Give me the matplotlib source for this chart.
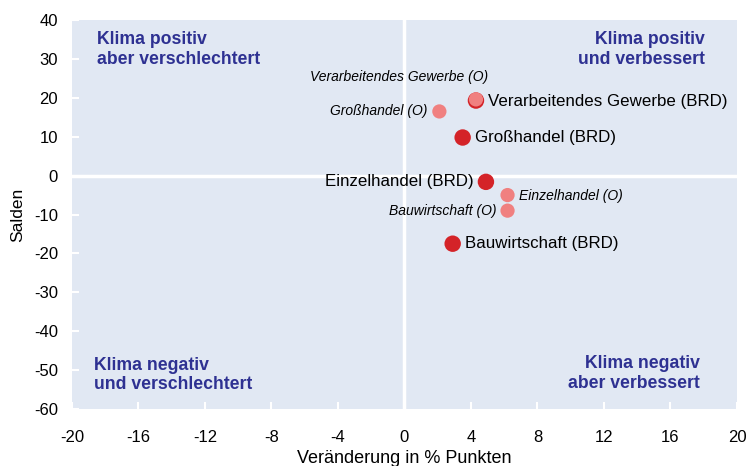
import matplotlib
matplotlib.use("Agg")
import matplotlib.pyplot as plt

# Data
brd_labels = ["Verarbeitendes Gewerbe (BRD)", "Großhandel (BRD)", "Einzelhandel (BRD)", "Bauwirtschaft (BRD)"]
brd_x = [4.3, 3.5, 4.9, 2.9]
brd_y = [19.3, 9.8, -1.6, -17.5]

ost_labels = ["Verarbeitendes Gewerbe (O)", "Großhandel (O)", "Einzelhandel (O)", "Bauwirtschaft (O)"]
ost_x = [4.3, 2.1, 6.2, 6.2]
ost_y = [19.6, 16.5, -5.0, -9.0]

x_ticks = [-20, -16, -12, -8, -4, 0, 4, 8, 12, 16, 20]
y_ticks = [40, 30, 20, 10, 0, -10, -20, -30, -40, -50, -60]

quadrant_texts = ["Klima positiv\naber verschlechtert", "Klima positiv\nund verbessert",
                  "Klima negativ\nund verschlechtert", "Klima negativ\naber verbessert"]

plt.rcParams['font.family'] = ['Liberation Sans', 'DejaVu Sans']

fig = plt.figure(figsize=(7.52, 4.66), dpi=100)
ax = fig.add_axes([0.0957, 0.1223, 0.8843, 0.8347])
bg = '#e1e8f3'
ax.set_facecolor(bg)
for s in ax.spines.values():
    s.set_visible(False)
ax.set_xlim(-20, 20)
ax.set_ylim(-60, 40)
ax.set_xticks(x_ticks)
ax.set_yticks(y_ticks)
ax.set_xticklabels([str(t) for t in x_ticks], fontsize=12)
ax.set_yticklabels([str(t) for t in y_ticks], fontsize=12)
ax.tick_params(axis='both', direction='in', color='white', length=5, width=1.5)
ax.tick_params(axis='x', pad=15)
ax.tick_params(axis='y', pad=10)
ax.axvline(0, color='white', lw=2.5, zorder=1)
ax.axhline(0, color='white', lw=2.5, zorder=1)

ax.set_xlabel("Veränderung in % Punkten", fontsize=13, labelpad=4)
ax.set_ylabel("Salden", fontsize=12.5, labelpad=6)

pink = '#f08080'
red = '#d42328'
ax.scatter(ost_x, ost_y, s=105, color=pink, zorder=3, edgecolors='none')
ax.scatter(brd_x, brd_y, s=140, color=red, zorder=2, edgecolors='none')

# BRD labels
ax.annotate(brd_labels[0], (brd_x[0], brd_y[0]), xytext=(9, -1), textcoords='offset points',
            ha='left', va='center', fontsize=12.2)
ax.annotate(brd_labels[1], (brd_x[1], brd_y[1]), xytext=(9, 0), textcoords='offset points',
            ha='left', va='center', fontsize=12.2)
ax.annotate(brd_labels[2], (brd_x[2], brd_y[2]), xytext=(-9, 0), textcoords='offset points',
            ha='right', va='center', fontsize=12.2)
ax.annotate(brd_labels[3], (brd_x[3], brd_y[3]), xytext=(9, 0), textcoords='offset points',
            ha='left', va='center', fontsize=12.2)

# O labels
ax.annotate(ost_labels[0], (ost_x[0], ost_y[0]), xytext=(9, 16), textcoords='offset points',
            ha='right', va='center', fontsize=10, style='italic')
ax.annotate(ost_labels[1], (ost_x[1], ost_y[1]), xytext=(-9, 0), textcoords='offset points',
            ha='right', va='center', fontsize=10, style='italic')
ax.annotate(ost_labels[2], (ost_x[2], ost_y[2]), xytext=(8, -1), textcoords='offset points',
            ha='left', va='center', fontsize=10, style='italic')
ax.annotate(ost_labels[3], (ost_x[3], ost_y[3]), xytext=(-8, 0), textcoords='offset points',
            ha='right', va='center', fontsize=10, style='italic')

qc = '#2e3192'
qfs = 12.7
ax.text(-18.5, 32.5, quadrant_texts[0], ha='left', va='center', fontsize=qfs, weight='bold', color=qc, linespacing=1.2)
ax.text(18.05, 32.5, quadrant_texts[1], ha='right', va='center', fontsize=qfs, weight='bold', color=qc, linespacing=1.2, multialignment='right')
ax.text(-18.7, -51.3, quadrant_texts[2], ha='left', va='center', fontsize=qfs, weight='bold', color=qc, linespacing=1.2, multialignment='left')
ax.text(17.75, -50.8, quadrant_texts[3], ha='right', va='center', fontsize=qfs, weight='bold', color=qc, linespacing=1.2, multialignment='right')

fig.savefig("out.png", dpi=100)
